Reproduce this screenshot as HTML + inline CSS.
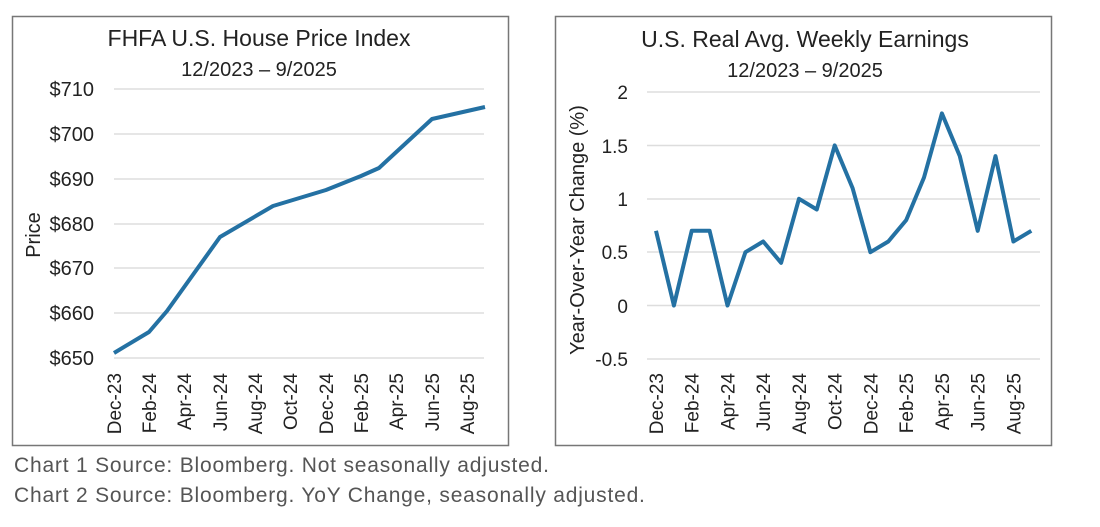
<!DOCTYPE html>
<html><head><meta charset="utf-8"><style>
body{margin:0;background:#fff;}
svg text{font-family:"Liberation Sans",sans-serif;fill:#222;}
</style></head><body>
<svg width="1100" height="522" viewBox="0 0 1100 522" xmlns="http://www.w3.org/2000/svg">
<rect x="0" y="0" width="1100" height="522" fill="#fff"/>
<rect x="12.5" y="16.5" width="496" height="429" fill="none" stroke="#777" stroke-width="1.5"/>
<rect x="555.5" y="16.5" width="496" height="429" fill="none" stroke="#777" stroke-width="1.5"/>
<g stroke="#ddd" stroke-width="1.5">
<line x1="114" x2="484" y1="89" y2="89"/><line x1="114" x2="484" y1="134" y2="134"/><line x1="114" x2="484" y1="179" y2="179"/><line x1="114" x2="484" y1="224" y2="224"/><line x1="114" x2="484" y1="268" y2="268"/><line x1="114" x2="484" y1="313" y2="313"/><line x1="114" x2="484" y1="358" y2="358"/>
<line x1="647" x2="1040" y1="92" y2="92"/><line x1="647" x2="1040" y1="145.5" y2="145.5"/><line x1="647" x2="1040" y1="199" y2="199"/><line x1="647" x2="1040" y1="252" y2="252"/><line x1="647" x2="1040" y1="305.5" y2="305.5"/><line x1="647" x2="1040" y1="359" y2="359"/>
</g>
<text x="259" y="46" font-size="23" text-anchor="middle">FHFA U.S. House Price Index</text>
<text x="259" y="76" font-size="20" text-anchor="middle">12/2023 – 9/2025</text>
<g font-size="20" text-anchor="end">
<text x="94" y="96">$710</text><text x="94" y="141">$700</text><text x="94" y="186">$690</text><text x="94" y="231">$680</text><text x="94" y="275">$670</text><text x="94" y="320">$660</text><text x="94" y="365">$650</text>
</g>
<text transform="translate(40,235) rotate(-90)" font-size="20" text-anchor="middle">Price</text>
<polyline fill="none" stroke="#2471a3" stroke-width="4" stroke-linejoin="round" points="114,353 149,332 167,311 220,237 273,206 326,190 361,176 379,168 432,119 485,107"/>
<g font-size="19" text-anchor="end">
<text transform="translate(121,373) rotate(-90)">Dec-23</text><text transform="translate(156,373) rotate(-90)">Feb-24</text><text transform="translate(191,373) rotate(-90)">Apr-24</text><text transform="translate(227,373) rotate(-90)">Jun-24</text><text transform="translate(262,373) rotate(-90)">Aug-24</text><text transform="translate(297,373) rotate(-90)">Oct-24</text><text transform="translate(333,373) rotate(-90)">Dec-24</text><text transform="translate(368,373) rotate(-90)">Feb-25</text><text transform="translate(403,373) rotate(-90)">Apr-25</text><text transform="translate(439,373) rotate(-90)">Jun-25</text><text transform="translate(474,373) rotate(-90)">Aug-25</text>
</g>
<text x="805" y="47" font-size="23" text-anchor="middle">U.S. Real Avg. Weekly Earnings</text>
<text x="805" y="77" font-size="20" text-anchor="middle">12/2023 – 9/2025</text>
<g font-size="19" text-anchor="end">
<text x="628" y="99">2</text><text x="628" y="153">1.5</text><text x="628" y="206">1</text><text x="628" y="259">0.5</text><text x="628" y="313">0</text><text x="628" y="366">-0.5</text>
</g>
<text transform="translate(584,230) rotate(-90)" font-size="20" text-anchor="middle">Year-Over-Year Change (%)</text>
<polyline fill="none" stroke="#2471a3" stroke-width="4" stroke-linejoin="round" id="p2" points=""/>
<g font-size="19" text-anchor="end" id="xl2"></g>
<text x="14" y="472" font-size="21" letter-spacing="0.8" style="fill:#555">Chart 1 Source: Bloomberg. Not seasonally adjusted.</text>
<text x="14" y="502" font-size="21" letter-spacing="0.8" style="fill:#555">Chart 2 Source: Bloomberg. YoY Change, seasonally adjusted.</text>
</svg>
<script>
var v=[0.7,0,0.7,0.7,0,0.5,0.6,0.4,1.0,0.9,1.5,1.1,0.5,0.6,0.8,1.2,1.8,1.4,0.7,1.4,0.6,0.7];
var pts=v.map(function(d,i){return (656+17.87*i).toFixed(1)+","+(305.5-d*106.7).toFixed(1);}).join(" ");
document.getElementById("p2").setAttribute("points",pts);
var L=["Dec-23","Feb-24","Apr-24","Jun-24","Aug-24","Oct-24","Dec-24","Feb-25","Apr-25","Jun-25","Aug-25"],g=document.getElementById("xl2"),s="";
L.forEach(function(t,i){s+='<text transform="translate('+(663+35.74*i).toFixed(1)+',373) rotate(-90)">'+t+'</text>';});
g.innerHTML=s;
</script>
</body></html>
